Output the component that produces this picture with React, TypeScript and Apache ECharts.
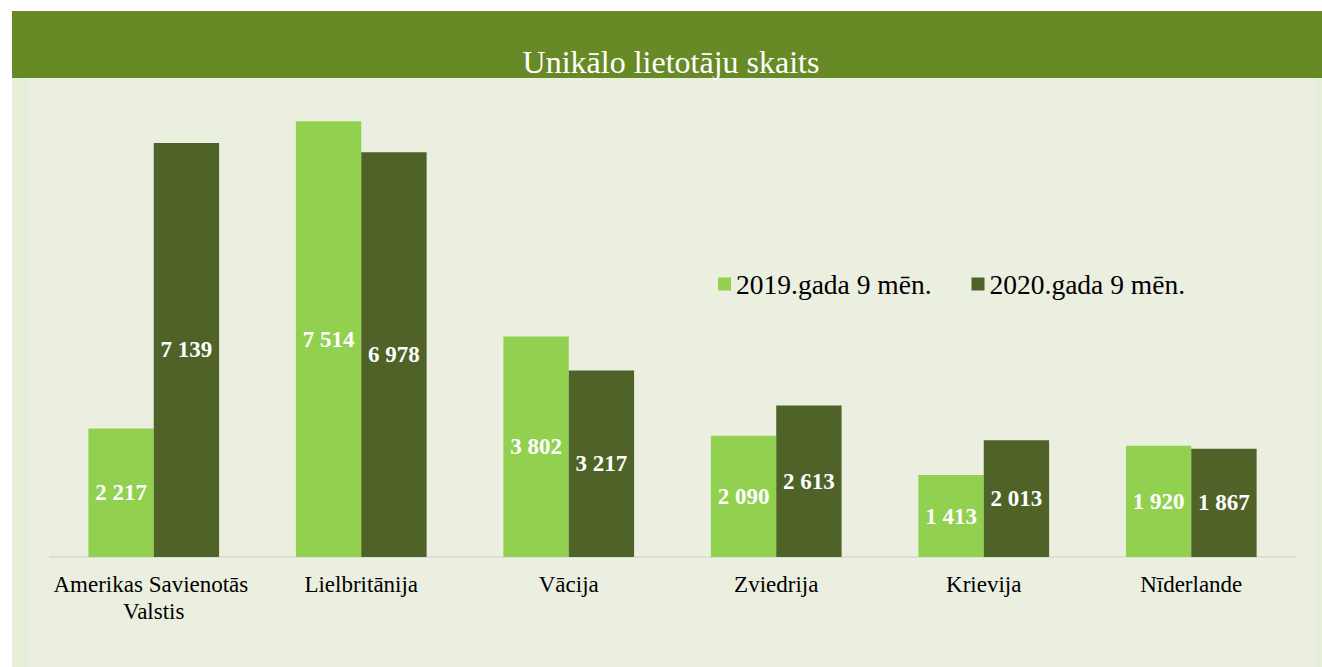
import React, { useEffect, useRef } from "react";
import * as echarts from "echarts";

const categories = [
  "Amerikas Savienotās Valstis",
  "Lielbritānija",
  "Vācija",
  "Zviedrija",
  "Krievija",
  "Nīderlande",
];
const series2019 = [2217, 7514, 3802, 2090, 1413, 1920];
const series2020 = [7139, 6978, 3217, 2613, 2013, 1867];
const seriesNames = ["2019.gada 9 mēn.", "2020.gada 9 mēn."];
const chartTitle = "Unikālo lietotāju skaits";

const fmt = (v: number) => {
  const s = String(v);
  return s.length > 3 ? s.slice(0, s.length - 3) + " " + s.slice(-3) : s;
};

export default function App() {
  const ref = useRef<HTMLDivElement>(null);
  useEffect(() => {
    const chart = echarts.init(ref.current!, null, { renderer: "svg" });
    const font = "'Liberation Serif', 'Times New Roman', serif";
    const label = {
      show: true,
      position: "inside",
      color: "#ffffff",
      fontFamily: font,
      fontWeight: "bold",
      fontSize: 23,
      formatter: (p: any) => fmt(p.value),
    };
    chart.setOption({
      animation: false,
      backgroundColor: "#ffffff",
      textStyle: { fontFamily: font },
      graphic: [
        { type: "rect", z: -10, shape: { x: 12, y: 11, width: 1310, height: 67 }, style: { fill: "#678A26" } },
        { type: "rect", z: -10, shape: { x: 12, y: 78, width: 1304, height: 589 }, style: { fill: "#EBEFDF" } },
        { type: "rect", z: -10, shape: { x: 12, y: 78, width: 15, height: 589 }, style: { fill: "#E6F0D6" } },
        { type: "rect", z: -10, shape: { x: 1316, y: 78, width: 6, height: 589 }, style: { fill: "#E6F0D6" } },
      ],
      title: {
        text: chartTitle,
        left: 666,
        textAlign: "center",
        top: 41,
        textStyle: { color: "#ffffff", fontFamily: font, fontSize: 32, fontWeight: "normal" },
      },
      legend: {
        left: 713,
        top: 265,
        itemWidth: 13,
        itemHeight: 13,
        itemGap: 40,
        icon: "rect",
        textStyle: { fontFamily: font, fontSize: 27.5, color: "#000000" },
        data: seriesNames,
      },
      grid: { left: 50, right: 27, top: 93, bottom: 110 },
      xAxis: {
        type: "category",
        data: categories,
        axisLine: { lineStyle: { color: "#D9D9D9", width: 1.5 } },
        axisTick: { show: false },
        axisLabel: {
          interval: 0,
          color: "#000000",
          fontFamily: font,
          fontSize: 23,
          margin: 14,
          width: 230,
          overflow: "break",
          lineHeight: 27,
        },
      },
      yAxis: { type: "value", min: 0, max: 8000, show: false, splitLine: { show: false } },
      series: [
        {
          name: seriesNames[0],
          type: "bar",
          data: series2019,
          barGap: "0%",
          barCategoryGap: "37%",
          itemStyle: { color: "#92D050" },
          label,
        },
        {
          name: seriesNames[1],
          type: "bar",
          data: series2020,
          itemStyle: { color: "#4F6228" },
          label,
        },
      ],
    });
    return () => chart.dispose();
  }, []);
  return (
    <div
      ref={ref}
      style={{ position: "absolute", left: 0, top: 0, width: 1322, height: 667 }}
    />
  );
}
